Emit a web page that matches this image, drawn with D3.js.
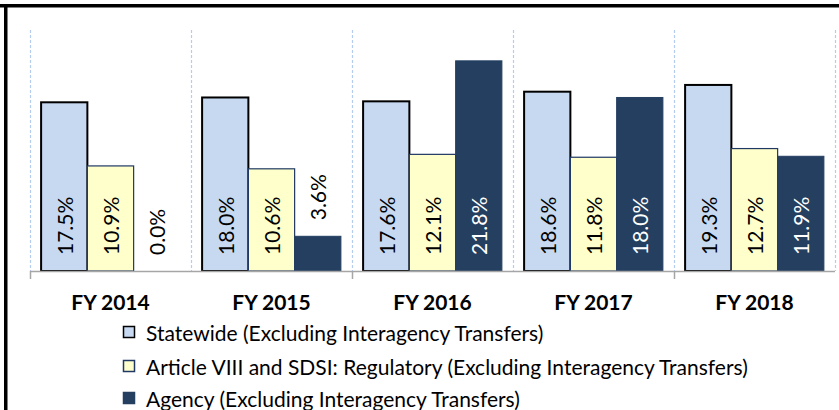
<!DOCTYPE html>
<html>
<head>
<meta charset="utf-8">
<script src="https://cdn.jsdelivr.net/npm/d3@7"></script>
<style>
	body { margin: 0; background: white; }
	svg { display: block; }
</style>
</head>
<body>
<div id="chart"></div>
<script>

let years = ['FY 2014', 'FY 2015', 'FY 2016', 'FY 2017', 'FY 2018']

let seriesNames = [
	'Statewide (Excluding Interagency Transfers)',
	'Article VIII and SDSI: Regulatory (Excluding Interagency Transfers)',
	'Agency (Excluding Interagency Transfers)'
]

let statewide = [17.5, 18.0, 17.6, 18.6, 19.3]
let regulatory = [10.9, 10.6, 12.1, 11.8, 12.7]
let agency = [0.0, 3.6, 21.8, 18.0, 11.9]

let fills = ['#c6d9f1', '#ffffcc', '#243f60']
let strokes = ['#000000', '#1f3864', '#243f60']
let strokeWidths = [2, 1.2, 1]
let labelColors = ['#000000', '#000000', '#ffffff']

let width = 839
let height = 410

let svg = d3.select('#chart')
	.append('svg')
	.attr('width', width)
	.attr('height', height)

// frame: top and left only
svg.append('rect').attr('x', 0).attr('y', 4).attr('width', width).attr('height', 3.5).attr('fill', '#000')
svg.append('rect').attr('x', 4).attr('y', 4).attr('width', 3.5).attr('height', height).attr('fill', '#000')

let xScale = d3.scaleBand()
	.domain(years)
	.range([30, 835])

let inner = d3.scaleBand()
	.domain(d3.range(3))
	.range([0, xScale.bandwidth()])
	.paddingOuter(0.24)

let yScale = d3.scaleLinear()
	.domain([0, 25])
	.range([271, 30])

// dashed gridlines at category boundaries
let bounds = years.map(d => xScale(d)).concat([xScale.range()[1]])

svg.selectAll('.grid')
	.data(bounds)
	.enter()
	.append('line')
	.attr('x1', d => d + 0.5)
	.attr('x2', d => d + 0.5)
	.attr('y1', yScale.range()[1])
	.attr('y2', yScale(0))
	.attr('stroke', '#b4cdef')
	.attr('stroke-width', 1.2)
	.attr('stroke-dasharray', '3,2')

let data = []
years.forEach(function(y, i){
	[statewide, regulatory, agency].forEach(function(s, j){
		data.push({'year': y, 'series': j, 'value': s[i]})
	})
})

svg.selectAll('.bar')
	.data(data.filter(d => d.value > 0))
	.enter()
	.append('rect')
	.attr('x', d => xScale(d.year) + inner(d.series))
	.attr('width', inner.bandwidth())
	.attr('y', d => yScale(d.value))
	.attr('height', d => yScale(0) - yScale(d.value))
	.attr('fill', d => fills[d.series])
	.attr('stroke', d => strokes[d.series])
	.attr('stroke-width', d => strokeWidths[d.series])

// axis line with ticks every second boundary
let xAxis = g => g.attr('transform', `translate(0,${yScale(0) + 0.5})`)
	.call(d3.axisBottom(xScale).tickSize(0).tickFormat(''))

let xG = svg.append('g').call(xAxis)
xG.select('.domain').attr('stroke', '#a6a6a6').attr('stroke-width', 1.5).attr('d', `M30,0H835`)

svg.selectAll('.tick2')
	.data(bounds.filter((d, i) => i % 2 == 0 && i < 5))
	.enter()
	.append('line')
	.attr('x1', d => d + 0.5)
	.attr('x2', d => d + 0.5)
	.attr('y1', yScale(0))
	.attr('y2', yScale(0) + 8)
	.attr('stroke', '#a6a6a6')
	.attr('stroke-width', 1.5)

// value labels
let labelFont = 21
let labelLen = 56

svg.selectAll('.val')
	.data(data)
	.enter()
	.append('text')
	.attr('transform', function(d){
		let cx = xScale(d.year) + inner(d.series) + inner.bandwidth() / 2
		let h = yScale(0) - yScale(d.value)
		let y = h > labelLen + 20 ? yScale(0) - 16 : yScale(d.value) - 16
		return `translate(${cx},${y}) rotate(-90)`
	})
	.attr('dominant-baseline', 'central')
	.attr('font-family', 'Lato, Carlito, sans-serif')
	.attr('font-size', labelFont)
	.attr('fill', function(d){
		let h = yScale(0) - yScale(d.value)
		return h > labelLen + 20 ? labelColors[d.series] : '#000'
	})
	.text(d => d.value.toFixed(1) + '%')

// category labels
svg.selectAll('.cat')
	.data(years)
	.enter()
	.append('text')
	.attr('x', d => xScale(d) + xScale.bandwidth() / 2)
	.attr('y', 310)
	.attr('text-anchor', 'middle')
	.attr('font-family', 'Lato, Carlito, sans-serif')
	.attr('font-weight', 'bold')
	.attr('font-size', 21)
	.attr('fill', '#000')
	.text(d => d)

// legend
let legendY = [332, 366, 398]

let legend = svg.selectAll('.leg')
	.data(seriesNames)
	.enter()
	.append('g')
	.attr('transform', (d, i) => `translate(123,${legendY[i]})`)

legend.append('rect')
	.attr('x', 0.5)
	.attr('y', -5.5)
	.attr('width', 11)
	.attr('height', 11)
	.attr('fill', (d, i) => fills[i])
	.attr('stroke', (d, i) => strokes[i])
	.attr('stroke-width', 1.5)

legend.append('text')
	.attr('x', 23)
	.attr('y', 0)
	.attr('dominant-baseline', 'central')
	.attr('font-family', 'Lato, Carlito, sans-serif')
	.attr('font-size', 21)
	.attr('fill', '#000')
	.text(d => d)

</script>
</body>
</html>
